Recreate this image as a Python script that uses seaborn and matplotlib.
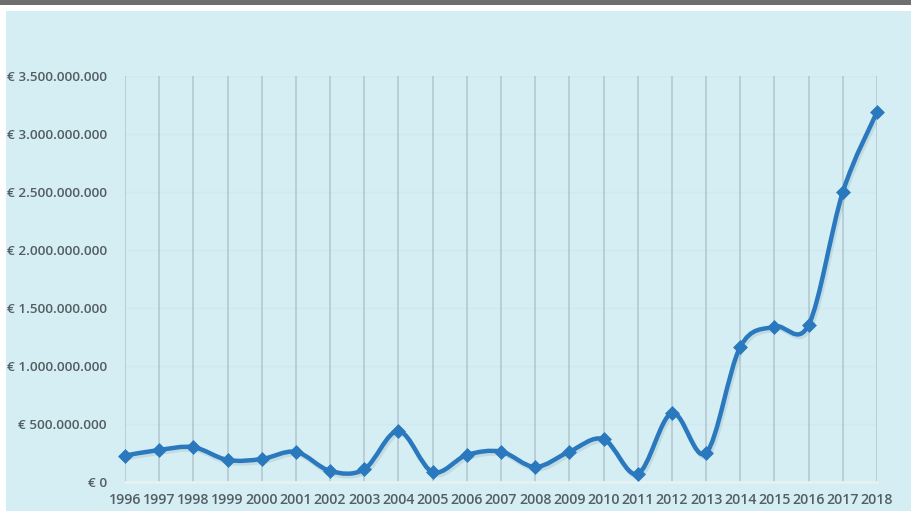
## Investment per year (EUR), 1996-2018
import numpy as np
import pandas as pd
import matplotlib
matplotlib.use("Agg")
import matplotlib.pyplot as plt
from matplotlib.path import Path
from matplotlib.patches import PathPatch, Rectangle
import seaborn as sns

## Data
years = [1996, 1997, 1998, 1999, 2000, 2001, 2002, 2003, 2004, 2005, 2006, 2007,
         2008, 2009, 2010, 2011, 2012, 2013, 2014, 2015, 2016, 2017, 2018]
amounts = [228e6, 276e6, 300e6, 190e6, 198e6, 260e6, 95e6, 110e6, 440e6, 86e6, 233e6, 262e6,
           130e6, 262e6, 370e6, 70e6, 595e6, 250e6, 1165e6, 1340e6, 1355e6, 2500e6, 3190e6]
y_ticks = [0, 500e6, 1000e6, 1500e6, 2000e6, 2500e6, 3000e6, 3500e6]
y_labels = ["€ 0", "€ 500.000.000", "€ 1.000.000.000", "€ 1.500.000.000", "€ 2.000.000.000",
            "€ 2.500.000.000", "€ 3.000.000.000", "€ 3.500.000.000"]

df = pd.DataFrame({"year": years, "amount": amounts})

BG = "#d4eef4"
LINE = "#2a78bd"
TXT = "#545e62"

sns.set_theme(style="white")
plt.rcParams["font.family"] = ["Open Sans", "DejaVu Sans"]

fig = plt.figure(figsize=(9.11, 5.11), dpi=100, facecolor="white")
# light blue panel + dark strip on top
fig.patches.append(Rectangle((6 / 911, 0), 1, 1 - 11 / 511, transform=fig.transFigure,
                             facecolor=BG, edgecolor="none", zorder=-2))
fig.patches.append(Rectangle((0, 1 - 5 / 511), 1, 5 / 511, transform=fig.transFigure,
                             facecolor="#6e6e6e", edgecolor="none", zorder=-1))

ax = fig.add_axes([125 / 911, 29 / 511, (877 - 125) / 911, (482 - 76) / 511])
ax.set_facecolor(BG)
ax.set_xlim(1996, 2018)
ax.set_ylim(0, 3500e6)

## grid
for yr in years:
    ax.axvline(yr, color="#b2c5cc", lw=1.1, zorder=1)
for t in y_ticks[1:]:
    ax.axhline(t, color="#d0e8ee", lw=1, zorder=0.5)
ax.axhline(0, color="#e8f1f3", lw=2, zorder=1.5, clip_on=False)

## smoothed line (bezier through the data points)
x = np.array(df["year"], dtype=float)
y = np.array(df["amount"], dtype=float)
verts = [(x[0], y[0])]
codes = [Path.MOVETO]
for i in range(len(x) - 1):
    p0 = np.array([x[max(i - 1, 0)], y[max(i - 1, 0)]])
    p1 = np.array([x[i], y[i]])
    p2 = np.array([x[i + 1], y[i + 1]])
    p3 = np.array([x[min(i + 2, len(x) - 1)], y[min(i + 2, len(x) - 1)]])
    c1 = p1 + (p2 - p0) / 6
    c2 = p2 - (p3 - p1) / 6
    verts += [tuple(c1), tuple(c2), tuple(p2)]
    codes += [Path.CURVE4] * 3
path = Path(verts, codes)
shadow = PathPatch(path, facecolor="none", edgecolor="#7f9aa6", lw=3.5, alpha=0.22,
                   capstyle="round", joinstyle="round", zorder=2)
shadow.set_transform(ax.transData + matplotlib.transforms.ScaledTranslation(1.2 / 72, -1.8 / 72, fig.dpi_scale_trans))
ax.add_patch(shadow)
ax.add_patch(PathPatch(path, facecolor="none", edgecolor=LINE, lw=3.2,
                       capstyle="round", joinstyle="round", zorder=3, clip_on=False))

sns.scatterplot(data=df, x="year", y="amount", marker="D", s=50, color=LINE,
                edgecolor=LINE, linewidth=0.5, zorder=4, clip_on=False, ax=ax)

## axes text
ax.set_xticks(years)
ax.set_xticklabels([str(v) for v in years], fontsize=10.2, color=TXT, fontweight="semibold")
ax.set_yticks(y_ticks)
ax.set_yticklabels(y_labels, fontsize=9.7, color=TXT, fontweight="semibold")
ax.tick_params(axis="both", length=0)
ax.tick_params(axis="y", pad=13)
ax.tick_params(axis="x", pad=8)
ax.set_xlabel("")
ax.set_ylabel("")
for s in ax.spines.values():
    s.set_visible(False)

fig.savefig("out.png", dpi=100, facecolor=fig.get_facecolor())
